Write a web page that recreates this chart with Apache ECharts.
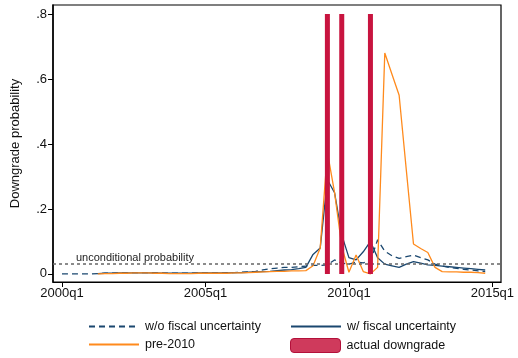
<!DOCTYPE html>
<html><head><meta charset="utf-8">
<script src="https://cdn.jsdelivr.net/npm/echarts@6/dist/echarts.min.js"></script>
<style>html,body{margin:0;padding:0;background:#fff}#c{width:518px;height:358px}</style>
</head><body><div id="c"></div>
<script>
// ---- data ----
const xTickLabels = ["2000q1", "2005q1", "2010q1", "2015q1"];
const yTickValues = [0, 0.2, 0.4, 0.6, 0.8];
const yTickLabels = ["0", ".2", ".4", ".6", ".8"];

const woFiscalStart = "2000q1";
const woFiscal = [0,0,0,0,0,
  0.001,0.002,0.002,0.003,0.003,0.004,0.004,0.004,0.003,0.003,
  0.002,0.002,0.002,0.002,0.003,0.003,0.003,0.003,0.004,0.004,
  0.005,0.006,0.008,0.012,0.016,0.018,0.02,0.02,0.022,0.024,
  0.026,0.026,0.028,0.043,0.033,0.03,0.036,0.034,0.04,0.105,
  0.07,0.056,0.048,0.053,0.058,0.05,0.043,0.03,0.024,0.02,
  0.017,0.014,0.012,0.009,0.007];

const wFiscalStart = "2001q2";
const wFiscal = [
  0.001,0.002,0.002,0.003,0.003,0.003,0.003,0.003,0.003,0.002,
  0.002,0.002,0.002,0.002,0.003,0.003,0.003,0.003,0.003,0.004,
  0.004,0.005,0.006,0.007,0.008,0.01,0.012,0.013,0.016,0.02,
  0.06,0.08,0.29,0.25,0.12,0.05,0.043,0.068,0.1,0.05,
  0.03,0.025,0.02,0.03,0.038,0.033,0.028,0.026,0.024,0.022,
  0.02,0.018,0.016,0.014,0.012];

const pre2010Start = "2001q2";
const pre2010 = [
  0.0,0.001,0.001,0.002,0.002,0.003,0.003,0.003,0.002,0.002,
  0.001,0.001,0.001,0.001,0.002,0.002,0.002,0.002,0.002,0.003,
  0.003,0.004,0.005,0.006,0.007,0.008,0.008,0.009,0.009,0.01,
  0.025,0.08,0.375,0.25,0.085,0.005,0.058,0.007,0.0,0.02,
  0.68,0.615,0.55,0.32,0.092,0.078,0.066,0.02,0.007,0.006,
  0.006,0.005,0.005,0.004,0.002];

const downgrades = ["2009q2", "2009q4", "2010q4"];
const downgradeHeight = 0.8;
const unconditional = 0.03;

// ---- helpers ----
function qIndex(label) {
  const y = parseInt(label.slice(0, 4), 10);
  const q = parseInt(label.slice(5), 10);
  return (y - 2000) * 4 + (q - 1);
}
function toPairs(start, arr) {
  const s = qIndex(start);
  return arr.map((v, i) => [s + i, v]);
}
function qLabel(idx) {
  return (2000 + Math.floor(idx / 4)) + "q" + (idx % 4 + 1);
}

const navy = "#1a476f";
const orange = "#ff8a1c";
const cranberry = "#c8143f";
const font = "Liberation Sans, Arial, sans-serif";

const chart = echarts.init(document.getElementById("c"), null, {renderer: "canvas"});
const xTickIdx = xTickLabels.map(qIndex);

const legendBase = {
  itemWidth: 50, itemHeight: 14, itemGap: 10, padding: 0,
  textStyle: {fontFamily: font, fontSize: 12.5, color: "#111", padding: [0, 0, 0, 1]},
  selectedMode: false
};
const hideSym = {opacity: 0};

chart.setOption({
  animation: false,
  backgroundColor: "#fff",
  grid: {left: 53, right: 17, top: 5, bottom: 76, show: true, borderColor: "#000", borderWidth: 1.2, backgroundColor: "#fff"},
  xAxis: {
    type: "value", min: -1.25, max: 61.2,
    axisLine: {show: true, onZero: false, lineStyle: {color: "#000", width: 1.2}},
    axisTick: {show: true, length: 5, lineStyle: {color: "#000"}, customValues: xTickIdx},
    axisLabel: {fontFamily: font, fontSize: 13, color: "#111", margin: 5, customValues: xTickIdx,
      formatter: v => qLabel(Math.round(v))},
    splitLine: {show: false}
  },
  yAxis: {
    type: "value", min: -0.025, max: 0.828,
    name: "Downgrade probability", nameLocation: "middle", nameGap: 31,
    nameTextStyle: {fontFamily: font, fontSize: 13, color: "#111"},
    axisLine: {show: true, onZero: false, lineStyle: {color: "#000", width: 1.5}},
    axisTick: {show: true, length: 5, lineStyle: {color: "#000"}, customValues: yTickValues},
    axisLabel: {fontFamily: font, fontSize: 13, color: "#111", margin: 6, customValues: yTickValues,
      formatter: v => { const k = yTickValues.findIndex(t => Math.abs(t - v) < 1e-6); return k >= 0 ? yTickLabels[k] : ""; }},
    splitLine: {show: false}
  },
  legend: [
    Object.assign({}, legendBase, {left: 88, top: 320, data: [{name: "w/o fiscal uncertainty", itemStyle: hideSym}]}),
    Object.assign({}, legendBase, {left: 290, top: 320, data: [{name: "w/ fiscal uncertainty", itemStyle: hideSym}]}),
    Object.assign({}, legendBase, {left: 88, top: 338, data: [{name: "pre-2010", itemStyle: hideSym}]}),
    Object.assign({}, legendBase, {left: 290, top: 338, data: [{name: "actual downgrade",
      itemStyle: {color: "#cf3a5c", borderColor: "#b3103a", borderWidth: 1}}]})
  ],
  series: [
    {
      name: "w/o fiscal uncertainty", type: "line", data: toPairs(woFiscalStart, woFiscal),
      symbol: "none", lineStyle: {color: navy, width: 1.3, type: [6, 4]}, itemStyle: {color: navy}, z: 3,
      markLine: {
        silent: true, symbol: "none",
        lineStyle: {color: "#666", width: 1.5, type: [3, 3]},
        label: {show: true, position: "insideStartTop", formatter: "unconditional probability",
          fontFamily: font, fontSize: 11, color: "#222", padding: [0, 0, 0, 22], distance: 1},
        data: [{yAxis: unconditional}]
      }
    },
    {
      name: "w/ fiscal uncertainty", type: "line", data: toPairs(wFiscalStart, wFiscal),
      symbol: "none", lineStyle: {color: navy, width: 1.3}, itemStyle: {color: navy}, z: 3
    },
    {
      name: "pre-2010", type: "line", data: toPairs(pre2010Start, pre2010),
      symbol: "none", lineStyle: {color: orange, width: 1.3}, itemStyle: {color: orange}, z: 4
    },
    {
      name: "actual downgrade", type: "bar", data: downgrades.map(d => [qIndex(d), downgradeHeight]),
      barWidth: 5, itemStyle: {color: cranberry}, z: 5
    }
  ]
});
</script>
</body></html>
